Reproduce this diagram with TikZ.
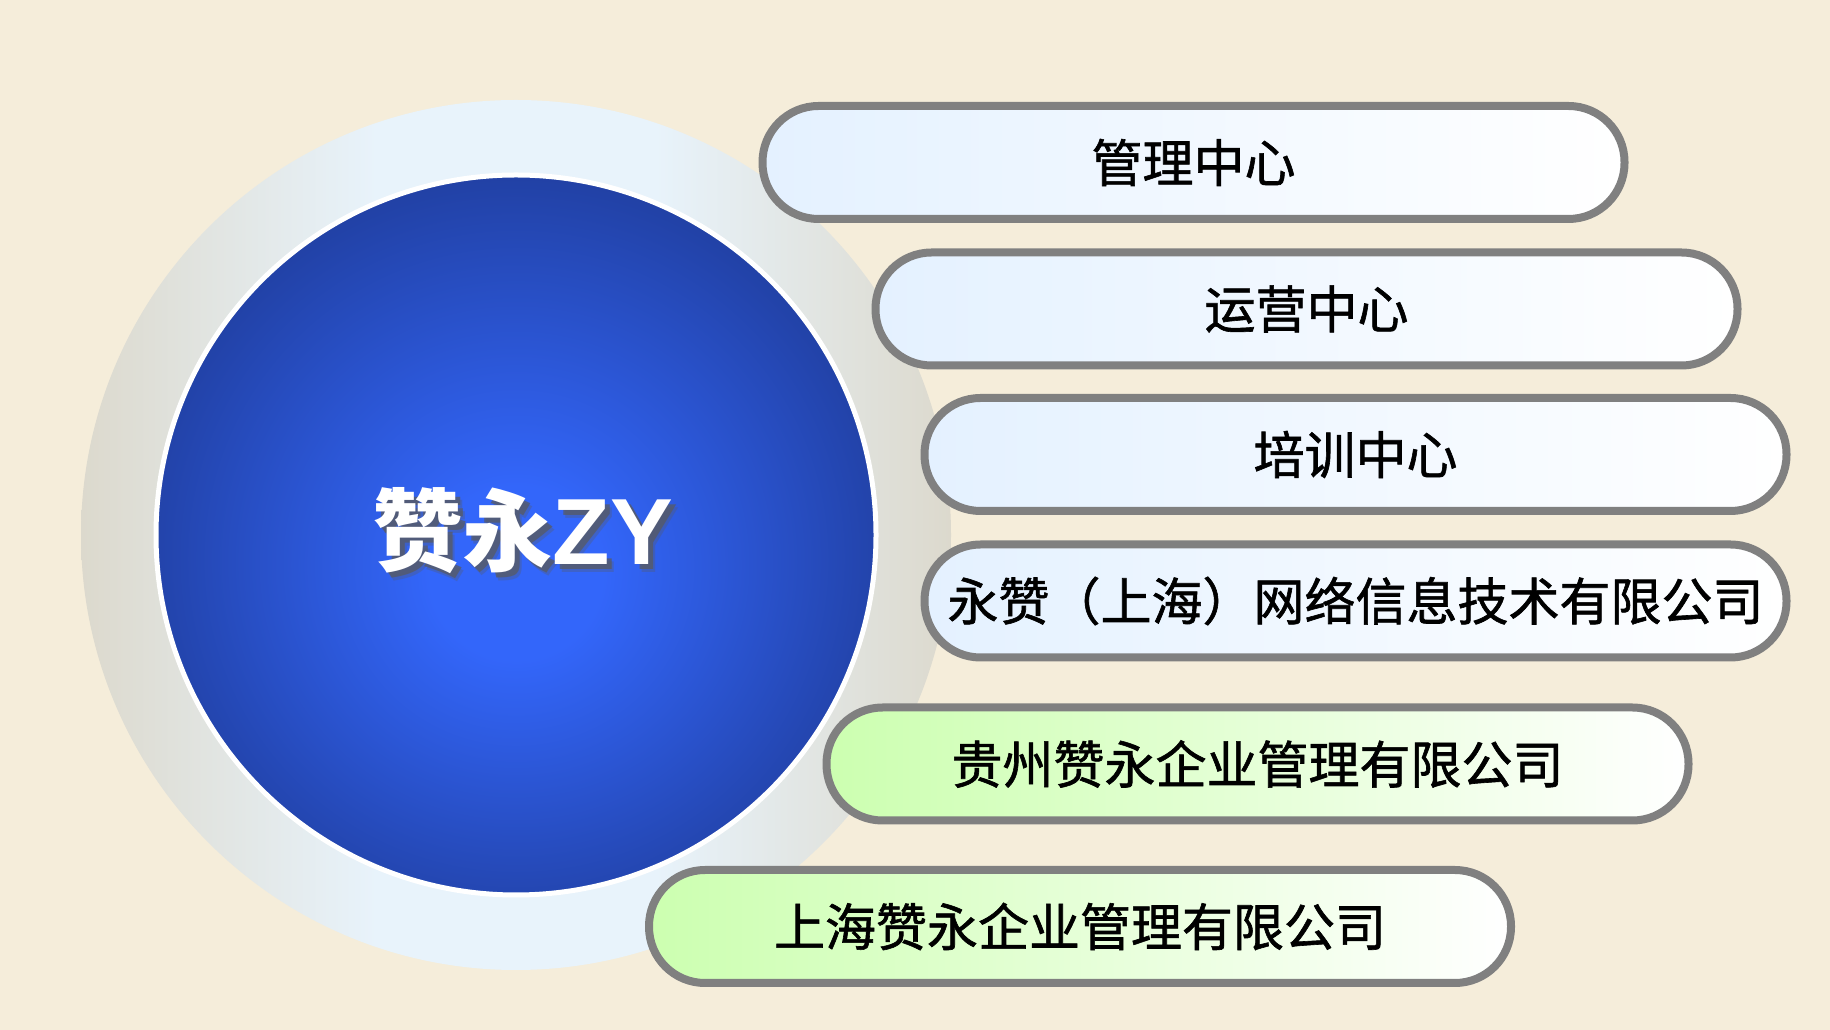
\documentclass[tikz,border=0pt]{standalone}
\usepackage{fontspec}
\newfontfamily\cjk{Noto Sans CJK SC}[FakeBold=1.2]
\newfontfamily\cjkt{Noto Sans CJK SC}
\newfontfamily\lat{Liberation Sans}
\definecolor{bg}{HTML}{F5EDDA}
\definecolor{ringside}{HTML}{DCD9CD}
\definecolor{ringmid}{HTML}{E8F3FB}
\definecolor{blueC}{HTML}{3366FA}
\definecolor{blueE}{HTML}{203E9E}
\definecolor{pillgray}{HTML}{808080}
\definecolor{pillblue}{HTML}{E4F1FF}
\definecolor{pillgreen}{HTML}{CCFFB0}
\definecolor{shadowgray}{HTML}{5A5A5A}
\pgfdeclareradialshading{bluedisc}{\pgfpoint{0bp}{-3bp}}{color(0bp)=(blueC); color(6bp)=(blueC); color(28bp)=(blueE); color(50bp)=(blueE)}
\pgfdeclarehorizontalshading{ringshade}{100bp}{color(0bp)=(ringside); color(25bp)=(ringside); color(42bp)=(ringmid); color(58bp)=(ringmid); color(75bp)=(ringside); color(100bp)=(ringside)}
\tikzset{
  pill/.style={rounded corners=56, minimum width=862, minimum height=113,
    draw=pillgray, line width=8, inner sep=0,
    font=\cjk\fontsize{51}{51}\selectfont, text=black},
  bluepill/.style={pill, left color=pillblue, right color=white},
  greenpill/.style={pill, left color=pillgreen, right color=white},
  titletext/.style={inner sep=0}
}
\newcommand\titlestr{{\cjkt\bfseries\fontsize{90}{94}\selectfont 赞永}{\lat\bfseries\fontsize{94}{94}\selectfont ZY}}
\begin{document}
\begin{tikzpicture}[x=1pt,y=1pt]
\useasboundingbox (0,0) rectangle (1830,1030);
\fill[bg] (0,0) rectangle (1830,1030);
% outer ring
\node (ring) at (516,495) [circle, minimum size=870, inner sep=0, shading=ringshade] {};
% blue disc
\node (core) at (516,495) [circle, minimum size=720, inner sep=0,
  shading=bluedisc, draw=white, line width=5] {};
% title with shadow
\node[titletext, text=shadowgray, opacity=0.3] (titleshadowb) at (530,491) {\titlestr};
\node[titletext, text=shadowgray, opacity=0.7] (titleshadow) at (528,494) {\titlestr};
\node[titletext, text=white] (title) at (523,499) {\titlestr};
% pills
\node[bluepill] (p1) at (1193.5,867.5) {管理中心};
\node[bluepill] (p2) at (1306.5,721) {运营中心};
\node[bluepill] (p3) at (1355.5,575.5) {培训中心};
\node[bluepill] (p4) at (1355.5,429) {永赞（上海）网络信息技术有限公司};
\node[greenpill] (p5) at (1257.5,266) {贵州赞永企业管理有限公司};
\node[greenpill] (p6) at (1080,103.5) {上海赞永企业管理有限公司};
\end{tikzpicture}
\end{document}
